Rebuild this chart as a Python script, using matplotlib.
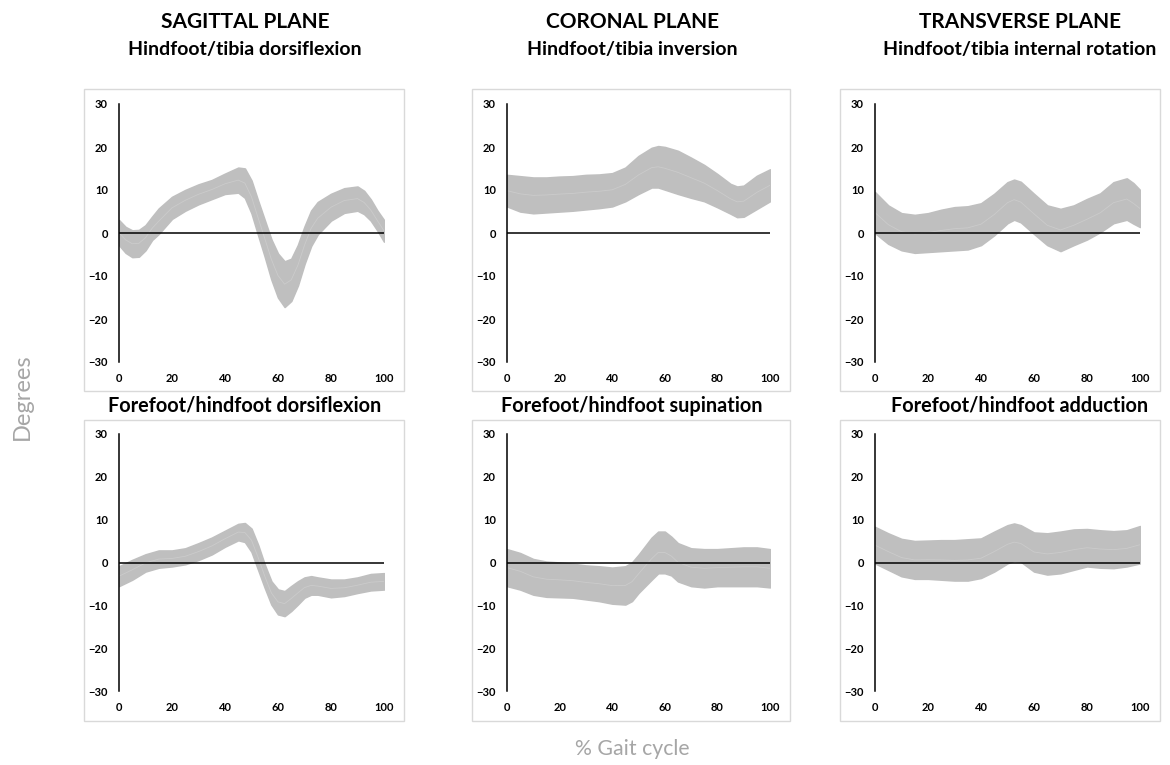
import numpy as np
import matplotlib.pyplot as plt
from matplotlib.patches import Rectangle

W, H = 1170, 765

# column headers and panel titles
planes = ["SAGITTAL PLANE", "CORONAL PLANE", "TRANSVERSE PLANE"]
top_titles = ["Hindfoot/tibia dorsiflexion", "Hindfoot/tibia inversion",
              "Hindfoot/tibia internal rotation"]
bottom_titles = ["Forefoot/hindfoot dorsiflexion", "Forefoot/hindfoot supination",
                 "Forefoot/hindfoot adduction"]

# band limits (degrees), % gait cycle on x
x1 = [0, 2.5, 5, 7.5, 10, 12.5, 15, 20, 25, 30, 35, 40, 45, 47.5, 50, 52.5, 55, 57.5,
      60, 62.5, 65, 67.5, 70, 72.5, 75, 80, 85, 90, 92.5, 95, 97.5, 100]
up1 = [3, 1.4, 0.6, 0.7, 1.8, 3.8, 5.7, 8.4, 10, 11.3, 12.3, 13.8, 15.2, 15, 12.2, 7.5,
       3, -1.5, -4.8, -6.6, -6, -2.8, 1.5, 5.2, 7.2, 9.1, 10.4, 10.8, 9.8, 7.8, 5.2, 3]
lo1 = [-2.8, -4.6, -5.6, -5.5, -4, -1.6, -0.2, 3.3, 5.2, 6.7, 7.9, 9.1, 9.4, 8.2, 4.6,
       -0.5, -5.5, -10.8, -15, -17.2, -15.8, -12.2, -7.2, -3, -0.3, 2.9, 4.7, 5.2, 4.4,
       2.9, 0.6, -2]

x2 = [0, 5, 10, 15, 20, 25, 30, 35, 40, 45, 50, 55, 57.5, 60, 65, 70, 75, 80, 85, 87.5,
      90, 95, 100]
up2 = [13.5, 13.2, 12.9, 12.9, 13.1, 13.2, 13.5, 13.6, 13.9, 15.2, 17.9, 19.8, 20.2, 20.0,
       19.1, 17.5, 15.8, 13.7, 11.4, 10.8, 11.0, 13.3, 14.8]
lo2 = [6.2, 5.0, 4.6, 4.8, 5.0, 5.2, 5.5, 5.8, 6.2, 7.4, 9.1, 10.6, 10.6, 10.1, 9.1, 8.2,
       7.4, 6.0, 4.5, 3.7, 3.8, 5.6, 7.4]

x3 = [0, 5, 10, 15, 20, 25, 30, 35, 40, 45, 50, 52.5, 55, 60, 65, 70, 75, 80, 85, 90, 95,
      97.5, 100]
up3 = [9.5, 6.4, 4.6, 4.2, 4.6, 5.4, 6.0, 6.2, 6.9, 9.1, 11.8, 12.4, 11.9, 9.1, 6.4, 5.6,
       6.4, 7.9, 9.2, 11.8, 12.7, 11.6, 10.0]
lo3 = [0.0, -2.5, -4.0, -4.6, -4.4, -4.2, -4.0, -3.8, -2.8, -0.5, 2.3, 3.1, 2.5, -0.2,
       -2.8, -4.2, -2.8, -1.5, 0.2, 2.3, 3.1, 2.2, 1.4]

x4 = [0, 5, 10, 15, 20, 25, 30, 35, 40, 45, 47.5, 50, 52.5, 55, 57.5, 60, 62.5, 65, 67.5,
      70, 72.5, 75, 80, 85, 90, 95, 100]
up4 = [-0.9, 0.6, 1.9, 2.8, 2.8, 3.3, 4.5, 5.8, 7.4, 9.0, 9.2, 7.9, 4.1, -0.5, -4.4, -6.3,
       -6.7, -5.5, -4.4, -3.5, -3.2, -3.5, -4.0, -4.0, -3.5, -2.7, -2.5]
lo4 = [-5.5, -4.0, -2.1, -1.2, -0.9, -0.4, 0.6, 1.9, 3.7, 5.2, 4.8, 2.5, -1.7, -5.9, -9.8,
       -12.1, -12.5, -11.3, -9.8, -8.2, -7.5, -7.5, -8.1, -7.8, -7.1, -6.5, -6.3]

x5 = [0, 5, 10, 15, 20, 25, 30, 35, 40, 45, 47.5, 50, 55, 57.5, 60, 62.5, 65, 70, 75, 80,
      85, 90, 95, 100]
up5 = [3.1, 2.2, 0.8, 0.2, 0.0, -0.3, -0.7, -0.9, -1.2, -0.9, 0.0, 1.8, 5.8, 7.2, 7.2,
       6.0, 4.5, 3.3, 3.1, 3.1, 3.3, 3.5, 3.5, 3.1]
lo5 = [-5.5, -6.3, -7.5, -8.0, -8.1, -8.2, -8.6, -9.0, -9.6, -9.8, -9.0, -7.1, -4.0, -2.5,
       -2.5, -3.0, -4.4, -5.5, -5.8, -5.5, -5.5, -5.5, -5.5, -5.8]

x6 = [0, 5, 10, 15, 20, 25, 30, 35, 40, 45, 50, 52.5, 55, 60, 65, 70, 75, 80, 85, 90, 95,
      100]
up6 = [8.3, 6.8, 5.5, 5.0, 5.1, 5.2, 5.2, 5.4, 5.6, 7.2, 8.7, 9.1, 8.7, 7.0, 6.8, 7.2,
       7.7, 7.8, 7.5, 7.3, 7.5, 8.5]
lo6 = [-0.2, -1.7, -3.2, -3.8, -3.8, -4.0, -4.2, -4.2, -3.6, -2.1, -0.2, 0.4, 0.2, -2.1,
       -2.8, -2.5, -1.7, -0.9, -1.2, -1.3, -0.9, -0.2]

panels = [(x1, lo1, up1), (x2, lo2, up2), (x3, lo3, up3),
          (x4, lo4, up4), (x5, lo5, up5), (x6, lo6, up6)]

xticks = [0, 20, 40, 60, 80, 100]
yticks = [-30, -20, -10, 0, 10, 20, 30]

plt.rcParams['font.family'] = ['Lato', 'DejaVu Sans']

fig = plt.figure(figsize=(W / 100, H / 100), dpi=100)

# pixel layout of the axes (left edge, right edge) and rows (top, bottom)
col_px = [(119, 384), (507, 770), (875, 1140)]
row_px = [(104, 362), (434, 691)]
box_rows = [(89, 391), (420, 721)]
title_cx = [245, 632, 1020]


def fx(px):
    return px / W


def fy(py):
    return 1 - py / H


for r in range(2):
    for c in range(3):
        xl, xr = col_px[c]
        yt, yb = row_px[r]
        bt, bb = box_rows[r]
        # light frame round each chart
        fig.add_artist(Rectangle((fx(xl - 35), fy(bb)), fx(xr + 20) - fx(xl - 35),
                                 fy(bt) - fy(bb), transform=fig.transFigure,
                                 fill=False, edgecolor='#d9d9d9', lw=1.0))
        ax = fig.add_axes([fx(xl), fy(yb), fx(xr) - fx(xl), fy(yt) - fy(yb)])
        x, lo, up = panels[r * 3 + c]
        x = np.array(x)
        lo = np.array(lo)
        up = np.array(up)
        ax.fill_between(x, lo, up, color='#bfbfbf', lw=1.2, edgecolor='#bfbfbf',
                        joinstyle='round', zorder=1)
        ax.plot(x, (lo + up) / 2, color='#cbcbcb', lw=0.6, zorder=2)
        ax.axhline(0, color='black', lw=1.1, zorder=3)
        ax.axvline(0, color='black', lw=1.1, zorder=3, clip_on=False)
        ax.set_xlim(0, 100)
        ax.set_ylim(-30, 30)
        ax.set_xticks(xticks)
        ax.set_yticks(yticks)
        ax.tick_params(length=0, labelsize=8, colors='black')
        ax.tick_params(axis='x', pad=8)
        ax.tick_params(axis='y', pad=8)
        for lab in ax.get_xticklabels() + ax.get_yticklabels():
            lab.set_fontweight('bold')
        for s in ax.spines.values():
            s.set_visible(False)
        ax.patch.set_alpha(0)

for c in range(3):
    fig.text(fx(title_cx[c]), fy(22), planes[c], ha='center', va='center',
             fontsize=15, fontweight='bold')
    fig.text(fx(title_cx[c]), fy(49), top_titles[c], ha='center', va='center',
             fontsize=14, fontweight='bold')
    fig.text(fx(title_cx[c]), fy(406), bottom_titles[c], ha='center', va='center',
             fontsize=14.3, fontweight='bold')

fig.text(fx(22), fy(397), "Degrees", rotation=90, ha='center', va='center',
         fontsize=17, color='#a6a6a6')
fig.text(fx(632), fy(749), "% Gait cycle", ha='center', va='center',
         fontsize=15.3, color='#a6a6a6')

fig.savefig("out.png", dpi=100)
